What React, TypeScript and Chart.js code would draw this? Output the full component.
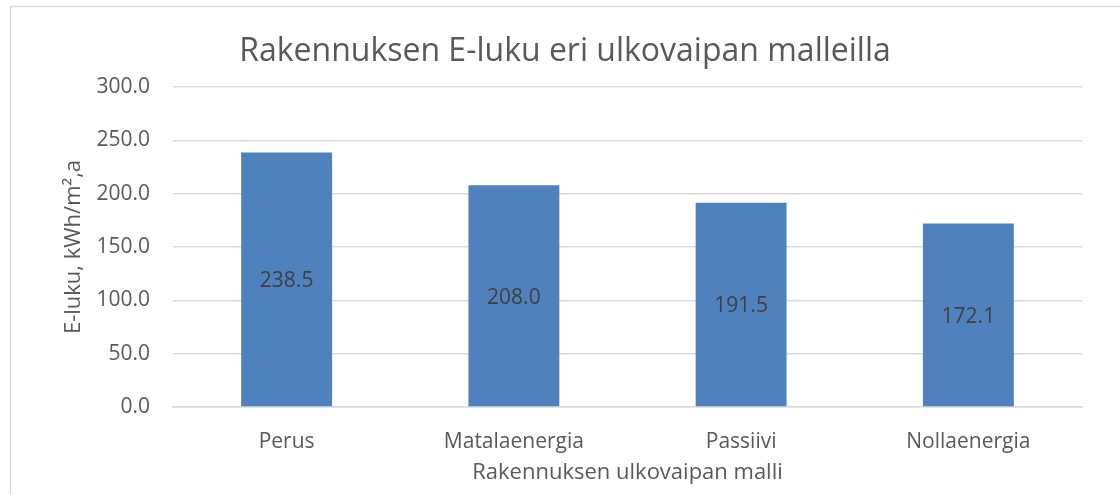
import React, { useEffect, useRef } from "react";
import { Chart, registerables } from "chart.js";

Chart.register(...registerables);

const categories = ["Perus", "Matalaenergia", "Passiivi", "Nollaenergia"];
const values = [238.5, 208.0, 191.5, 172.1];
const yTicks = [0, 50, 100, 150, 200, 250, 300];
const titleText = "Rakennuksen E-luku eri ulkovaipan malleilla";
const xTitle = "Rakennuksen ulkovaipan malli";
const yTitle = "E-luku, kWh/m\u00B2,a";

const FONT = "'Open Sans', sans-serif";

const borderPlugin = {
  id: "outerBorder",
  beforeDraw(chart: any) {
    const ctx = chart.ctx;
    ctx.save();
    ctx.fillStyle = "#ffffff";
    ctx.fillRect(0, 0, chart.width, chart.height);
    ctx.strokeStyle = "#d9d9d9";
    ctx.lineWidth = 1.5;
    ctx.strokeRect(10.5, 6.5, 3000, 3000);
    ctx.restore();
  },
};

const labelPlugin = {
  id: "barLabels",
  afterDatasetsDraw(chart: any) {
    const ctx = chart.ctx;
    const meta = chart.getDatasetMeta(0);
    ctx.save();
    ctx.font = `21px ${FONT}`;
    ctx.fillStyle = "#404040";
    ctx.textAlign = "center";
    ctx.textBaseline = "middle";
    meta.data.forEach((bar: any, i: number) => {
      const v = chart.data.datasets[0].data[i] as number;
      ctx.fillText(v.toFixed(1), bar.x, (bar.y + bar.base) / 2 + 2);
    });
    ctx.restore();
  },
};

export default function App() {
  const ref = useRef<HTMLCanvasElement | null>(null);

  useEffect(() => {
    let chart: Chart | null = null;
    let cancelled = false;
    const make = () => {
      if (cancelled || !ref.current) return;
      chart = new Chart(ref.current, {
        type: "bar",
        data: {
          labels: categories,
          datasets: [
            {
              data: values,
              backgroundColor: "#4f81bd",
              borderWidth: 0,
              categoryPercentage: 1,
              barPercentage: 0.4,
            },
          ],
        },
        options: {
          responsive: false,
          animation: false,
          layout: { padding: { left: 48, right: 38, top: 0, bottom: 0 } },
          font: { family: FONT },
          plugins: {
            legend: { display: false },
            tooltip: { enabled: false },
            title: {
              display: true,
              text: titleText,
              color: "#595959",
              font: { family: FONT, size: 32, weight: "normal", lineHeight: 1.2 },
              padding: { top: 33, bottom: 15.6 },
            },
          },
          scales: {
            x: {
              grid: { display: false },
              border: { display: true, color: "#d9d9d9", width: 1.5 },
              ticks: {
                color: "#595959",
                font: { family: FONT, size: 21 },
                padding: 14,
                maxRotation: 0,
              },
              title: {
                display: true,
                text: xTitle,
                color: "#595959",
                font: { family: FONT, size: 22, lineHeight: 1.2 },
                padding: { top: 0, bottom: 9 },
              },
              afterFit(scale: any) {
                scale.height = 88;
              },
            },
            y: {
              min: 0,
              max: 300,
              afterBuildTicks(scale: any) {
                scale.ticks = yTicks.map((v) => ({ value: v }));
              },
              grid: { color: "#d9d9d9", lineWidth: 1.5, drawTicks: false },
              border: { display: false },
              ticks: {
                color: "#595959",
                font: { family: FONT, size: 21 },
                padding: 23,
                callback: (v: any) => Number(v).toFixed(1),
              },
              title: {
                display: true,
                text: yTitle,
                color: "#595959",
                font: { family: FONT, size: 22, lineHeight: 1.2 },
                padding: { top: 13, bottom: 0 },
              },
              afterFit(scale: any) {
                scale.width = 125;
              },
            },
          },
        },
        plugins: [borderPlugin, labelPlugin],
      } as any);
    };
    const fontsApi = (document as any).fonts;
    if (fontsApi && fontsApi.load) {
      Promise.all([
        fontsApi.load(`21px "Open Sans"`),
        fontsApi.load(`32px "Open Sans"`),
      ])
        .catch(() => null)
        .then(make);
    } else {
      make();
    }
    return () => {
      cancelled = true;
      if (chart) chart.destroy();
    };
  }, []);

  return (
    <div
      style={{
        position: "fixed",
        left: 0,
        top: 0,
        width: 1120,
        height: 495,
        background: "#ffffff",
        overflow: "hidden",
      }}
    >
      <canvas ref={ref} width={1120} height={495} style={{ display: "block" }} />
    </div>
  );
}
